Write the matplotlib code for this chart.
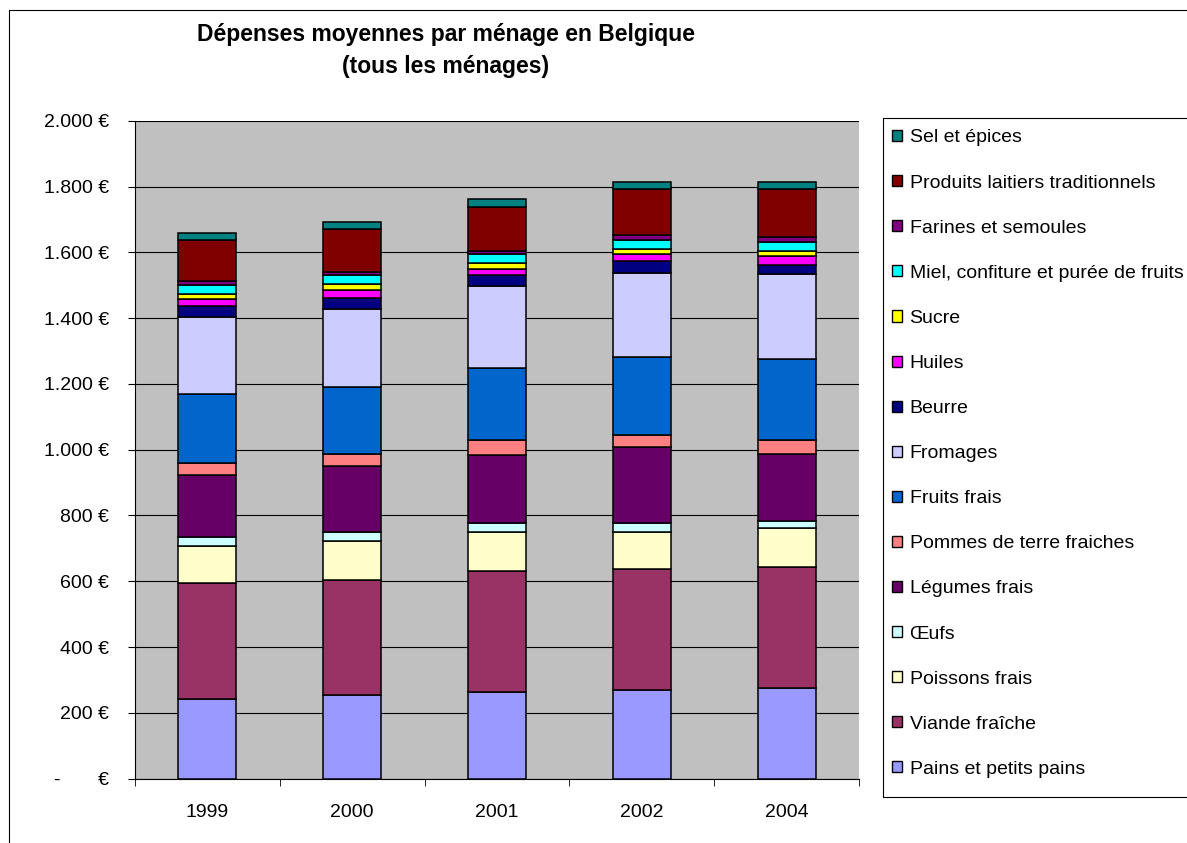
import matplotlib
matplotlib.use("Agg")
import matplotlib.pyplot as plt
from matplotlib.patches import Rectangle, Patch
import numpy as np

plt.rcParams['font.family'] = ['Liberation Sans', 'DejaVu Sans']

# donnees (euros par menage)
annees = ['1999', '2000', '2001', '2002', '2004']

pains = [243, 253, 264, 270, 274]
viande = [352, 351, 368, 367, 369]
poissons = [113, 119, 119, 114, 120]
oeufs = [26, 27, 27, 26, 21]
legumes = [189, 200, 205, 230, 203]
pommes_de_terre = [38, 37, 48, 39, 44]
fruits = [208, 204, 219, 237, 244]
fromages = [235, 236, 248, 256, 259]
beurre = [33, 36, 32, 35, 28]
huiles = [21, 22, 21, 21, 28]
sucre = [17, 18, 16, 15, 16]
miel = [27, 27, 27, 28, 27]
farines = [11, 11, 11, 15, 15]
produits_laitiers = [125, 129, 134, 140, 145]
sel = [22, 22, 23, 22, 22]

noms = ['Pains et petits pains', 'Viande fraîche', 'Poissons frais', 'Œufs',
        'Légumes frais', 'Pommes de terre fraiches', 'Fruits frais', 'Fromages',
        'Beurre', 'Huiles', 'Sucre', 'Miel, confiture et purée de fruits',
        'Farines et semoules', 'Produits laitiers traditionnels', 'Sel et épices']
series = [pains, viande, poissons, oeufs, legumes, pommes_de_terre, fruits, fromages,
          beurre, huiles, sucre, miel, farines, produits_laitiers, sel]
couleurs = ['#9999FF', '#993366', '#FFFFCC', '#CCFFFF', '#660066', '#FF8080',
            '#0066CC', '#CCCCFF', '#000080', '#FF00FF', '#FFFF00', '#00FFFF',
            '#800080', '#800000', '#008080']

y_ticks = [0, 200, 400, 600, 800, 1000, 1200, 1400, 1600, 1800, 2000]
y_tick_labels = ['-       €', '200 €', '400 €', '600 €', '800 €', '1.000 €',
                 '1.200 €', '1.400 €', '1.600 €', '1.800 €', '2.000 €']

fig = plt.figure(figsize=(11.87, 8.43), dpi=100)
ax = fig.add_axes([0.1137, 0.0765, 0.61, 0.78])
ax.set_facecolor('#C0C0C0')

x = np.arange(len(annees))
bas = np.zeros(len(annees))
for nom, vals, c in zip(noms, series, couleurs):
    ax.bar(x, vals, width=0.4, bottom=bas, color=c, edgecolor='black',
           linewidth=1.1, label=nom, zorder=3)
    bas = bas + np.array(vals)

ax.set_xlim(-0.5, len(annees) - 0.5)
ax.set_ylim(0, 2000)
ax.set_yticks(y_ticks)
ax.set_yticklabels(y_tick_labels)
ax.yaxis.grid(True, color='black', linewidth=0.8, zorder=0)
ax.set_axisbelow(True)

ax.set_xticks(x)
ax.set_xticklabels(annees)
ax.set_xticks(np.arange(-0.5, len(annees), 1.0), minor=True)
ax.tick_params(axis='x', which='major', length=0, pad=18.5, labelsize=14)
ax.tick_params(axis='x', which='minor', length=5, direction='out', color='black')
ax.tick_params(axis='y', length=5, direction='out', pad=13.5, labelsize=14)

for s in ['top', 'right']:
    ax.spines[s].set_visible(False)
ax.spines['left'].set_color('black')
ax.spines['bottom'].set_color('black')

fig.text(0.3757, 0.940, 'Dépenses moyennes par ménage en Belgique\n(tous les ménages)',
         ha='center', va='center', fontsize=16.5, fontweight='bold', linespacing=1.5)

# legende, ordre inverse comme dans Excel
poignees = [Patch(facecolor=c, edgecolor='black', linewidth=1.0) for c in couleurs]
leg = fig.legend(poignees[::-1], noms[::-1], loc='upper left',
                 bbox_to_anchor=(0.7397, 0.863), fontsize=14, frameon=False,
                 labelspacing=1.445, handlelength=0.5, handleheight=0.5,
                 handletextpad=0.4, borderpad=0.72, borderaxespad=0)

# cadre de la legende (deborde a droite comme l'original)
fig.patches.append(Rectangle((883 / 1187, 1 - 797 / 843), 0.4, (797 - 118) / 843,
                             transform=fig.transFigure, fill=False,
                             edgecolor='black', linewidth=0.8))

# cadre exterieur du graphique
fig.patches.append(Rectangle((9 / 1187, -0.1), 1.2, 1.1 - 10 / 843,
                             transform=fig.transFigure, fill=False,
                             edgecolor='black', linewidth=0.8))

fig.savefig('out.png', dpi=100)
